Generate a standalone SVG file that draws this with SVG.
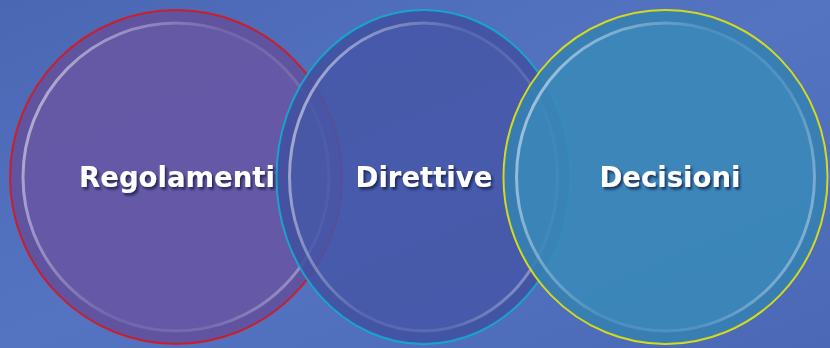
<svg xmlns="http://www.w3.org/2000/svg" width="830" height="348" viewBox="0 0 830 348">
<defs>
<linearGradient id="bg" x1="0" y1="0" x2="1" y2="1">
<stop offset="0" stop-color="#4a67b3"/>
<stop offset="0.5" stop-color="#5474c2"/>
<stop offset="1" stop-color="#4a68b6"/>
</linearGradient>
<linearGradient id="ring" x1="0" y1="0.35" x2="1" y2="0.75">
<stop offset="0" stop-color="#ffffff" stop-opacity="0.5"/>
<stop offset="0.45" stop-color="#ffffff" stop-opacity="0.08"/>
<stop offset="0.75" stop-color="#ffffff" stop-opacity="0.12"/>
<stop offset="1" stop-color="#ffffff" stop-opacity="0.4"/>
</linearGradient>
<filter id="sh" x="-10%" y="-30%" width="120%" height="160%">
<feDropShadow dx="2" dy="2.5" stdDeviation="1.3" flood-color="#161a40" flood-opacity="0.75"/>
</filter>
</defs>
<style>
.lbl{font-family:"DejaVu Sans","Liberation Sans",sans-serif;font-weight:bold;font-size:27.5px;text-anchor:middle;fill:#ffffff}
.inner{fill:none;stroke:url(#ring);stroke-width:3}
.band{fill:none;stroke:#101840;stroke-opacity:0.06;stroke-width:12}
</style>
<rect width="830" height="348" fill="url(#bg)"/>
<g id="node-regolamenti">
<ellipse cx="176" cy="177" rx="166" ry="167" fill="#6657a4" fill-opacity="0.96" stroke="#d0202c" stroke-width="2"/>
<ellipse cx="176" cy="177" rx="160" ry="161" class="band"/>
<ellipse cx="176" cy="177" rx="153" ry="154" class="inner"/>
</g>
<g id="node-direttive">
<ellipse cx="423.5" cy="177" rx="147" ry="167" fill="#4557a7" fill-opacity="0.88" stroke="#1aa8d0" stroke-width="2"/>
<ellipse cx="423.5" cy="177" rx="141" ry="161" class="band"/>
<ellipse cx="423.5" cy="177" rx="134" ry="154" class="inner"/>
</g>
<g id="node-decisioni">
<ellipse cx="665.5" cy="177" rx="162" ry="167" fill="#3a88b9" fill-opacity="0.9" stroke="#d8e020" stroke-width="2"/>
<ellipse cx="665.5" cy="177" rx="156" ry="161" class="band"/>
<ellipse cx="665.5" cy="177" rx="149" ry="154" class="inner"/>
</g>
<g id="labels" filter="url(#sh)">
<text class="lbl" x="177" y="187">Regolamenti</text>
<text class="lbl" x="424" y="187">Direttive</text>
<text class="lbl" x="670" y="187">Decisioni</text>
</g>
<g id="connectors"/>
</svg>
